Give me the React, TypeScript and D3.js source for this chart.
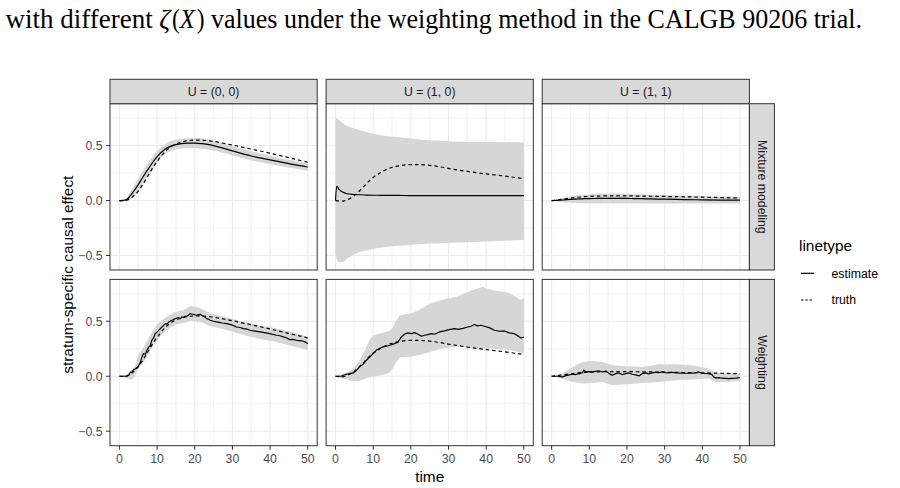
import React from 'react';
import * as d3 from 'd3';

const W = 900;
const H = 488;

// ---------- labels ----------
const colLabels = ['U = (0, 0)', 'U = (1, 0)', 'U = (1, 1)'];
const rowLabels = ['Mixture modeling', 'Weighting'];
const xTicks = [0, 10, 20, 30, 40, 50];
const xMinor = [5, 15, 25, 35, 45];
const yTicks = [-0.5, 0, 0.5];
const yMinor = [-0.25, 0.25, 0.75];
const legendLabels = ['estimate', 'truth'];

// ---------- smooth grid ----------
const tGrid = [0, 1, 2, 3, 4, 5, 6, 7, 8, 9, 10, 12, 14, 16, 18, 20, 22, 25, 28, 30, 35, 40, 45, 50];

// truth curves (same in both methods)
const truth00 = [0, 0, 0.003, 0.02, 0.05, 0.085, 0.135, 0.19, 0.25, 0.305, 0.355, 0.44, 0.495, 0.527, 0.543, 0.549, 0.548, 0.538, 0.518, 0.505, 0.468, 0.43, 0.39, 0.348];
const truth10 = [0, -0.004, -0.005, 0.005, 0.022, 0.045, 0.075, 0.11, 0.145, 0.18, 0.21, 0.255, 0.29, 0.31, 0.322, 0.327, 0.327, 0.32, 0.305, 0.292, 0.265, 0.242, 0.222, 0.198];
const truth11 = [0, 0.003, 0.008, 0.013, 0.018, 0.022, 0.026, 0.03, 0.033, 0.036, 0.038, 0.04, 0.042, 0.042, 0.042, 0.042, 0.041, 0.04, 0.038, 0.037, 0.034, 0.031, 0.027, 0.023];

// mixture modeling, U=(0,0)
const mixEst00 = [0, 0.002, 0.01, 0.05, 0.095, 0.145, 0.2, 0.255, 0.305, 0.355, 0.4, 0.465, 0.5, 0.515, 0.522, 0.522, 0.517, 0.5, 0.472, 0.452, 0.405, 0.37, 0.335, 0.305];
const mixHi00 = [0, 0.005, 0.03, 0.08, 0.14, 0.2, 0.26, 0.315, 0.365, 0.41, 0.45, 0.51, 0.545, 0.56, 0.567, 0.568, 0.564, 0.547, 0.515, 0.495, 0.447, 0.408, 0.37, 0.338];
const mixLo00 = [0, -0.004, -0.005, 0.015, 0.045, 0.085, 0.135, 0.19, 0.24, 0.295, 0.345, 0.42, 0.455, 0.47, 0.477, 0.477, 0.472, 0.455, 0.43, 0.41, 0.365, 0.332, 0.3, 0.272];

// mixture modeling, U=(1,0)
const mixT10 = [0, 0.3, 1, 2, 3, 5, 8, 11, 14, 18, 22, 27, 31, 40, 50];
const mixEst10 = [0, 0.13, 0.1, 0.075, 0.062, 0.055, 0.05, 0.048, 0.047, 0.046, 0.045, 0.045, 0.044, 0.044, 0.044];
const mixHi10 = [0.76, 0.75, 0.73, 0.7, 0.68, 0.655, 0.625, 0.6, 0.585, 0.57, 0.555, 0.545, 0.538, 0.532, 0.529];
const mixLo10 = [-0.5, -0.53, -0.563, -0.56, -0.53, -0.49, -0.455, -0.435, -0.42, -0.41, -0.398, -0.39, -0.385, -0.372, -0.36];

// mixture modeling, U=(1,1)
const mixEst11 = [0, 0.001, 0.003, 0.005, 0.008, 0.01, 0.012, 0.014, 0.016, 0.017, 0.018, 0.019, 0.02, 0.02, 0.02, 0.019, 0.018, 0.016, 0.013, 0.012, 0.009, 0.006, 0.004, 0.003];
const mixHi11 = [0, 0.008, 0.015, 0.022, 0.03, 0.037, 0.043, 0.048, 0.052, 0.055, 0.058, 0.062, 0.064, 0.064, 0.063, 0.062, 0.06, 0.056, 0.052, 0.05, 0.045, 0.04, 0.036, 0.032];
const mixLo11 = [0, -0.005, -0.01, -0.014, -0.017, -0.019, -0.021, -0.022, -0.023, -0.024, -0.024, -0.025, -0.025, -0.025, -0.025, -0.025, -0.025, -0.026, -0.026, -0.027, -0.027, -0.028, -0.028, -0.028];

// weighting, U=(0,0)
const wtT00 = [0, 2.0, 2.5, 2.9, 3.3, 3.8, 4.2, 4.7, 5.1, 5.6, 6.0, 6.4, 6.9, 7.3, 7.8, 8.2, 8.6, 9.1, 9.5, 10.0, 10.4, 10.8, 11.3, 11.7, 12.2, 12.6, 13.1, 13.5, 13.9, 14.4, 14.8, 15.3, 15.7, 16.1, 16.6, 17.0, 17.5, 17.9, 18.3, 18.8, 19.2, 19.7, 20.1, 20.5, 21.0, 21.4, 21.9, 22.3, 22.8, 23.2, 23.6, 24.1, 25.0, 25.8, 26.5, 27.3, 28.5, 29.5, 30.3, 31.1, 32.0, 32.9, 33.8, 34.7, 36.0, 37.3, 38.5, 39.9, 40.8, 41.7, 42.6, 43.5, 44.3, 45.2, 46.1, 47.0, 47.9, 48.8, 49.4, 50];
const wtEst00 = [0, 0, 0.009, 0.039, 0.033, 0.061, 0.066, 0.079, 0.096, 0.13, 0.176, 0.206, 0.2, 0.236, 0.267, 0.28, 0.327, 0.35, 0.388, 0.4, 0.418, 0.43, 0.448, 0.46, 0.479, 0.472, 0.494, 0.5, 0.509, 0.515, 0.524, 0.53, 0.533, 0.522, 0.539, 0.535, 0.545, 0.548, 0.555, 0.57, 0.566, 0.564, 0.558, 0.555, 0.56, 0.564, 0.552, 0.545, 0.535, 0.524, 0.518, 0.509, 0.5, 0.494, 0.49, 0.484, 0.479, 0.47, 0.46, 0.448, 0.443, 0.433, 0.428, 0.418, 0.41, 0.403, 0.396, 0.388, 0.38, 0.373, 0.368, 0.358, 0.35, 0.333, 0.335, 0.327, 0.324, 0.318, 0.31, 0.298];
const wtBandT00 = [0, 2, 3, 4, 5, 6, 7, 8, 9, 10, 11, 12, 13, 14, 15, 16, 17, 18, 19, 20, 21, 22, 24, 26, 28, 30, 32, 34, 36, 38, 40, 42, 44, 46, 48, 50];
const wtHi00 = [0, 0.015, 0.05, 0.085, 0.19, 0.24, 0.3, 0.36, 0.42, 0.47, 0.5, 0.53, 0.55, 0.57, 0.585, 0.595, 0.6, 0.62, 0.64, 0.63, 0.625, 0.61, 0.575, 0.555, 0.54, 0.52, 0.5, 0.485, 0.47, 0.455, 0.45, 0.43, 0.415, 0.395, 0.38, 0.36];
const wtLo00 = [0, -0.02, -0.035, -0.01, 0.07, 0.11, 0.16, 0.22, 0.28, 0.33, 0.37, 0.41, 0.43, 0.45, 0.47, 0.48, 0.485, 0.49, 0.505, 0.5, 0.495, 0.49, 0.455, 0.44, 0.425, 0.405, 0.385, 0.365, 0.35, 0.335, 0.325, 0.31, 0.29, 0.27, 0.26, 0.235];

// weighting, U=(1,0)
const wtT10 = [0, 1.6, 2.0, 2.9, 3.8, 4.7, 5.6, 6.4, 7.3, 8.2, 9.1, 10.0, 10.8, 11.7, 12.6, 13.5, 14.4, 15.3, 16.1, 16.6, 17.0, 17.5, 18.3, 19.2, 20.1, 21.0, 21.9, 22.8, 23.6, 24.5, 25.4, 26.3, 27.6, 28.9, 30.2, 31.6, 32.5, 33.8, 35.1, 36.0, 36.9, 37.7, 38.6, 39.5, 40.8, 42.2, 43.5, 44.8, 46.1, 47.4, 48.8, 49.2, 50];
const wtEst10 = [0, 0, 0.009, 0.018, 0.024, 0.03, 0.055, 0.085, 0.109, 0.145, 0.176, 0.206, 0.236, 0.252, 0.267, 0.273, 0.282, 0.291, 0.303, 0.312, 0.333, 0.358, 0.382, 0.394, 0.388, 0.397, 0.382, 0.364, 0.373, 0.379, 0.388, 0.382, 0.403, 0.412, 0.424, 0.433, 0.427, 0.436, 0.448, 0.455, 0.47, 0.458, 0.464, 0.455, 0.442, 0.418, 0.409, 0.412, 0.394, 0.388, 0.358, 0.348, 0.355];
const wtBandT10 = [0, 2, 4, 6, 8, 9, 10, 12, 14, 15, 16, 17, 18, 20, 22, 24, 26, 28, 30, 32, 34, 36, 38, 39, 40, 42, 44, 46, 48, 49, 50];
const wtHi10 = [0, 0.02, 0.05, 0.12, 0.25, 0.33, 0.37, 0.39, 0.41, 0.43, 0.5, 0.55, 0.56, 0.57, 0.6, 0.64, 0.67, 0.69, 0.71, 0.72, 0.75, 0.78, 0.8, 0.812, 0.8, 0.78, 0.77, 0.76, 0.72, 0.69, 0.706];
const wtLo10 = [0, -0.02, -0.04, -0.045, -0.02, -0.01, -0.005, 0.01, 0.025, 0.06, 0.12, 0.17, 0.175, 0.18, 0.19, 0.21, 0.23, 0.25, 0.26, 0.27, 0.265, 0.26, 0.25, 0.25, 0.25, 0.25, 0.245, 0.24, 0.225, 0.215, 0.205];

// weighting, U=(1,1)
const wtT11 = [0, 1.6, 2.9, 3.8, 4.7, 5.6, 6.4, 7.3, 8.2, 8.6, 9.1, 10.0, 10.8, 11.7, 12.6, 13.5, 14.4, 15.3, 16.1, 17.0, 17.9, 18.8, 19.7, 20.5, 21.4, 22.3, 23.2, 24.1, 25.0, 25.8, 26.7, 27.6, 28.5, 29.4, 30.2, 31.1, 32.0, 32.9, 34.7, 36.4, 38.2, 39.1, 39.9, 41.7, 42.6, 43.0, 43.5, 44.4, 45.2, 47.0, 48.8, 50];
const wtEst11 = [0, 0, -0.006, 0.006, 0.012, 0.018, 0.015, 0.024, 0.033, 0.055, 0.039, 0.042, 0.039, 0.045, 0.048, 0.039, 0.048, 0.024, 0.009, 0.024, 0.03, 0.015, 0.024, 0.03, 0.018, 0.012, 0.003, 0.024, 0.03, 0.021, 0.03, 0.036, 0.033, 0.039, 0.033, 0.03, 0.036, 0.03, 0.027, 0.027, 0.03, 0.039, 0.027, 0.024, 0.015, -0.006, -0.015, -0.012, -0.018, -0.021, -0.018, -0.012];
const wtBandT11 = [0, 2.9, 5.6, 8.2, 10.8, 13.5, 16.1, 19.7, 24.1, 28.5, 32.9, 37.3, 41.7, 43.5, 47, 50];
const wtHi11 = [0, 0.024, 0.085, 0.13, 0.139, 0.13, 0.1, 0.091, 0.085, 0.109, 0.109, 0.1, 0.07, 0.03, 0.03, 0.024];
const wtLo11 = [0, -0.021, -0.052, -0.067, -0.061, -0.052, -0.082, -0.073, -0.061, -0.052, -0.036, -0.03, -0.021, -0.052, -0.052, -0.042];

type Pt = [number, number];
const zip = (t: number[], v: number[]): Pt[] => t.map((x, i) => [x, v[i]]);
const zipBand = (t: number[], lo: number[], hi: number[]) => t.map((x, i) => ({ t: x, lo: lo[i], hi: hi[i] }));

const panels = [
  { row: 0, col: 0, curve: 'smooth', band: zipBand(tGrid, mixLo00, mixHi00), est: zip(tGrid, mixEst00), truth: zip(tGrid, truth00) },
  { row: 0, col: 1, curve: 'smooth', band: zipBand(mixT10, mixLo10, mixHi10), est: zip(mixT10, mixEst10), truth: zip(tGrid, truth10) },
  { row: 0, col: 2, curve: 'smooth', band: zipBand(tGrid, mixLo11, mixHi11), est: zip(tGrid, mixEst11), truth: zip(tGrid, truth11) },
  { row: 1, col: 0, curve: 'jagged', band: zipBand(wtBandT00, wtLo00, wtHi00), est: zip(wtT00, wtEst00), truth: zip(tGrid, truth00) },
  { row: 1, col: 1, curve: 'jagged', band: zipBand(wtBandT10, wtLo10, wtHi10), est: zip(wtT10, wtEst10), truth: zip(tGrid, truth10) },
  { row: 1, col: 2, curve: 'jagged', band: zipBand(wtBandT11, wtLo11, wtHi11), est: zip(wtT11, wtEst11), truth: zip(tGrid, truth11) },
];

// ---------- layout ----------
const FONT = "'Liberation Sans', Arial, Helvetica, sans-serif";
const SERIF = "'Liberation Serif', 'DejaVu Serif', serif";
const PX0 = 110;
const PW = 207.2;
const PGAP = 8.9;
const PY0 = 103.7;
const PH = 166.3;
const VGAP = 9.4;
const STRIP_H = 24.4;
const STRIP_W = 25;
const TICK_FS = 12.3;
const TITLE_FS = 15.4;

const allVals: number[] = [];
panels.forEach((p) => {
  p.band.forEach((b) => allVals.push(b.lo, b.hi));
  p.est.forEach((e) => allVals.push(e[1]));
  p.truth.forEach((e) => allVals.push(e[1]));
});
const [vMin, vMax] = d3.extent(allVals) as [number, number];
const vPad = (vMax - vMin) * 0.05;

const x = d3.scaleLinear().domain([-2.5, 52.5]).range([0, PW]);
const y = d3.scaleLinear().domain([vMin - vPad, vMax + vPad]).range([PH, 0]);

const smoothLine = d3.line<Pt>().x((d) => x(d[0])).y((d) => y(d[1])).curve(d3.curveMonotoneX);
const linLine = d3.line<Pt>().x((d) => x(d[0])).y((d) => y(d[1])).curve(d3.curveLinear);
const smoothArea = d3
  .area<{ t: number; lo: number; hi: number }>()
  .x((d) => x(d.t))
  .y0((d) => y(d.lo))
  .y1((d) => y(d.hi))
  .curve(d3.curveMonotoneX);
const linArea = d3
  .area<{ t: number; lo: number; hi: number }>()
  .x((d) => x(d.t))
  .y0((d) => y(d.lo))
  .y1((d) => y(d.hi))
  .curve(d3.curveLinear);

const panelX = (c: number) => PX0 + c * (PW + PGAP);
const panelY = (r: number) => PY0 + r * (PH + VGAP);

// caption pieces (text, italic, relative width in em)
const captionParts: [string, boolean, number][] = [
  ['with different', false, 5.671],
  [' ', false, 0.25],
  ['ζ', true, 0.42],
  [' ', false, 0.07],
  ['(', false, 0.3],
  ['X', true, 0.58],
  [' ', false, 0.07],
  [')', false, 0.3],
  [' ', false, 0.25],
  ['values under the weighting method in the CALGB 90206 trial.', false, 25.054],
];

export default function App() {
  const lastRight = panelX(2) + PW;
  const bottom = panelY(1) + PH;
  const capY = 27.5;
  const capX0 = 5.5;
  const capX1 = 862;
  const totalEm = captionParts.reduce((s, p) => s + p[2], 0);
  const pxPerEm = (capX1 - capX0) / totalEm;
  let cursor = capX0;
  const capItems = captionParts.map((p) => {
    const item = { text: p[0], italic: p[1], x: cursor, w: p[2] * pxPerEm };
    cursor += item.w;
    return item;
  });
  return (
    <svg
      width={W}
      height={H}
      viewBox={`0 0 ${W} ${H}`}
      style={{ position: 'absolute', left: 0, top: 0, background: '#fff' }}
    >
      <rect x={0} y={0} width={W} height={H} fill="#fff" />
      {/* caption */}
      <g fontFamily={SERIF} fontSize={27} fill="#000">
        {capItems
          .filter((c) => c.text.trim().length > 0)
          .map((c, i) => (
            <text
              key={i}
              x={c.x}
              y={capY}
              fontStyle={c.italic ? 'italic' : 'normal'}
              textLength={c.w}
              lengthAdjust="spacingAndGlyphs"
            >
              {c.text}
            </text>
          ))}
      </g>

      {/* panels */}
      {panels.map((p, i) => {
        const px = panelX(p.col);
        const py = panelY(p.row);
        const line = p.curve === 'smooth' ? smoothLine : linLine;
        const area = p.curve === 'smooth' ? smoothArea : linArea;
        return (
          <g key={i} transform={`translate(${px},${py})`}>
            <rect x={0} y={0} width={PW} height={PH} fill="#fff" />
            {xMinor.map((t) => (
              <line key={'xm' + t} x1={x(t)} x2={x(t)} y1={0} y2={PH} stroke="#ebebeb" strokeWidth={0.6} />
            ))}
            {yMinor.map((v) => (
              <line key={'ym' + v} x1={0} x2={PW} y1={y(v)} y2={y(v)} stroke="#ebebeb" strokeWidth={0.6} />
            ))}
            {xTicks.map((t) => (
              <line key={'xM' + t} x1={x(t)} x2={x(t)} y1={0} y2={PH} stroke="#ebebeb" strokeWidth={1.1} />
            ))}
            {yTicks.map((v) => (
              <line key={'yM' + v} x1={0} x2={PW} y1={y(v)} y2={y(v)} stroke="#ebebeb" strokeWidth={1.1} />
            ))}
            <path d={area(p.band) || ''} fill="#d6d6d6" stroke="none" />
            <path d={line(p.truth) || ''} fill="none" stroke="#000" strokeWidth={1.2} strokeDasharray="3.5,3" />
            <path d={line(p.est) || ''} fill="none" stroke="#000" strokeWidth={1.2} strokeLinejoin="round" />
            <rect x={0} y={0} width={PW} height={PH} fill="none" stroke="#333333" strokeWidth={1} />
          </g>
        );
      })}

      {/* top strips */}
      {colLabels.map((lab, c) => (
        <g key={lab} transform={`translate(${panelX(c)},${PY0 - STRIP_H})`}>
          <rect x={0} y={0} width={PW} height={STRIP_H} fill="#d9d9d9" stroke="#333333" strokeWidth={1} />
          <text x={PW / 2} y={STRIP_H / 2} dy="0.35em" textAnchor="middle" fontFamily={FONT} fontSize={TICK_FS} fill="#1a1a1a">
            {lab}
          </text>
        </g>
      ))}

      {/* right strips */}
      {rowLabels.map((lab, r) => (
        <g key={lab} transform={`translate(${lastRight},${panelY(r)})`}>
          <rect x={0} y={0} width={STRIP_W} height={PH} fill="#d9d9d9" stroke="#333333" strokeWidth={1} />
          <text
            transform={`translate(${STRIP_W / 2},${PH / 2}) rotate(90)`}
            dy="0.35em"
            textAnchor="middle"
            fontFamily={FONT}
            fontSize={TICK_FS}
            fill="#1a1a1a"
          >
            {lab}
          </text>
        </g>
      ))}

      {/* y axes */}
      {rowLabels.map((_, r) => (
        <g key={'ya' + r} transform={`translate(${PX0},${panelY(r)})`}>
          {yTicks.map((v) => (
            <g key={v}>
              <line x1={-4} x2={0} y1={y(v)} y2={y(v)} stroke="#333333" strokeWidth={1} />
              <text x={-7.5} y={y(v)} dy="0.35em" textAnchor="end" fontFamily={FONT} fontSize={TICK_FS} fill="#4d4d4d">
                {d3.format('.1f')(v)}
              </text>
            </g>
          ))}
        </g>
      ))}

      {/* x axes */}
      {colLabels.map((_, c) => (
        <g key={'xa' + c} transform={`translate(${panelX(c)},${bottom})`}>
          {xTicks.map((t) => (
            <g key={t}>
              <line x1={x(t)} x2={x(t)} y1={0} y2={4} stroke="#333333" strokeWidth={1} />
              <text x={x(t)} y={17.3} textAnchor="middle" fontFamily={FONT} fontSize={TICK_FS} fill="#4d4d4d">
                {t}
              </text>
            </g>
          ))}
        </g>
      ))}

      {/* axis titles */}
      <text x={(PX0 + lastRight) / 2} y={481.5} textAnchor="middle" fontFamily={FONT} fontSize={TITLE_FS} fill="#000">
        time
      </text>
      <text
        transform={`translate(72.5,${(PY0 + bottom) / 2}) rotate(-90)`}
        textAnchor="middle"
        fontFamily={FONT}
        fontSize={TITLE_FS}
        fill="#000"
      >
        stratum-specific causal effect
      </text>

      {/* legend */}
      <g>
        <text x={799} y={250.5} fontFamily={FONT} fontSize={TITLE_FS} fill="#000">
          linetype
        </text>
        {legendLabels.map((lab, i) => (
          <g key={lab} transform={`translate(800,${273.3 + i * 26.7})`}>
            <line x1={1} x2={14} y1={0} y2={0} stroke="#000" strokeWidth={1.2} strokeDasharray={i === 1 ? '2.5,1.8' : undefined} />
            <text x={31.5} y={0} dy="0.35em" fontFamily={FONT} fontSize={TICK_FS} fill="#000">
              {lab}
            </text>
          </g>
        ))}
      </g>
    </svg>
  );
}
